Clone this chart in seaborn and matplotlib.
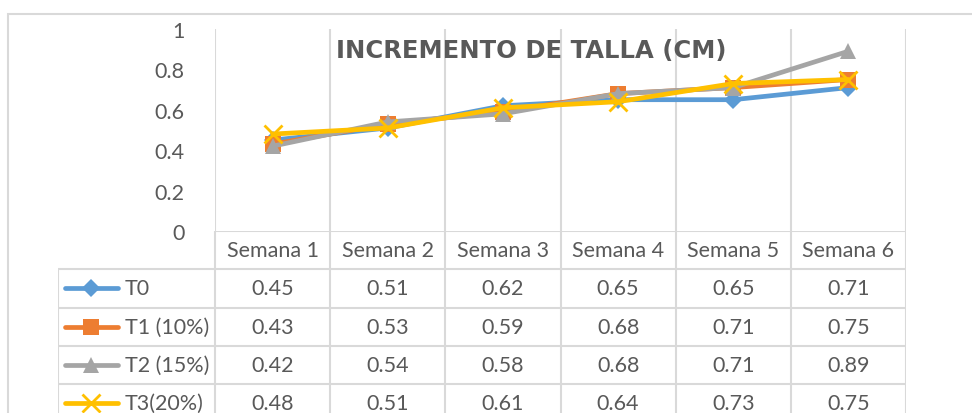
import pandas as pd
import numpy as np
import seaborn as sns
import matplotlib.pyplot as plt
from matplotlib.lines import Line2D
from matplotlib.patches import Rectangle

semanas = ['Semana 1', 'Semana 2', 'Semana 3', 'Semana 4', 'Semana 5', 'Semana 6']
series = ['T0', 'T1 (10%)', 'T2 (15%)', 'T3(20%)']
t0 = [0.45, 0.51, 0.62, 0.65, 0.65, 0.71]
t1 = [0.43, 0.53, 0.59, 0.68, 0.71, 0.75]
t2 = [0.42, 0.54, 0.58, 0.68, 0.71, 0.89]
t3 = [0.48, 0.51, 0.61, 0.64, 0.73, 0.75]
y_ticks = [0, 0.2, 0.4, 0.6, 0.8, 1]
y_labels = ['0', '0.2', '0.4', '0.6', '0.8', '1']
title = 'INCREMENTO DE TALLA (CM)'

colors = ['#5B9BD5', '#ED7D31', '#A5A5A5', '#FFC000']
markers = ['D', 's', '^', 'x']
msizes = [9, 11, 12, 13]
text_c = '#595959'
grid_c = '#D9D9D9'


def main():
    sns.set_style('white')
    plt.rcParams['font.family'] = ['Lato', 'DejaVu Sans']

    values = [t0, t1, t2, t3]
    rows = []
    for name, vals in zip(series, values):
        for i, v in enumerate(vals):
            rows.append({'semana': i, 'serie': name, 'valor': v})
    df = pd.DataFrame(rows)

    W, H = 972, 414
    fig = plt.figure(figsize=(W / 100, H / 100), dpi=100)

    # chart border (Excel chart area)
    fig.add_artist(Rectangle((8 / W, -0.1), 1.2, (H - 15) / H + 0.1,
                             transform=fig.transFigure, fill=False,
                             edgecolor=grid_c, lw=1.5))

    # plot area
    left, right, top, bottom = 215, 906, 30, 232
    ax = fig.add_axes([left / W, (H - bottom) / H, (right - left) / W, (bottom - top) / H])
    n = len(semanas)
    # one call per series: seaborn won't mix filled and line-art markers
    for name, c, m, ms in zip(series, colors, markers, msizes):
        sub = df[df['serie'] == name]
        sns.lineplot(data=sub, x='semana', y='valor', color=c, marker=m,
                     markersize=ms, linewidth=3.4,
                     markeredgewidth=2 if m == 'x' else 0, markeredgecolor=c,
                     legend=False, ax=ax)
    ax.set_xlim(-0.5, n - 0.5)
    ax.set_ylim(0, 1)
    ax.set_xticks([])
    ax.set_yticks(y_ticks)
    ax.set_yticklabels(y_labels, color=text_c, fontsize=15.5)
    ax.tick_params(axis='y', length=0, pad=22)
    for k in range(n + 1):
        ax.axvline(k - 0.5, color=grid_c, lw=1.5, zorder=0)
    for s in ax.spines.values():
        s.set_visible(False)
    ax.set_xlabel('')
    ax.set_ylabel('')

    fig.text(531 / W, (H - 51) / H, title, ha='center', va='center',
             fontsize=17.5, fontweight='bold', color=text_c, family='DejaVu Sans')

    # data table below the plot
    row_h = 38.3
    first_w = (left - 58) / ((right - left) / n)
    tab_top = bottom
    n_rows = len(series) + 1
    tax = fig.add_axes([58 / W, (H - tab_top - n_rows * row_h) / H,
                        (right - 58) / W, n_rows * row_h / H])
    tax.set_xlim(-0.5 - first_w, n - 0.5)
    tax.set_ylim(n_rows, 0)
    tax.axis('off')
    tax.hlines(0, -0.5, n - 0.5, color=grid_c, lw=1.5)
    tax.hlines(range(1, n_rows + 1), -0.5 - first_w, n - 0.5, color=grid_c, lw=1.5)
    tax.vlines([k - 0.5 for k in range(n + 1)], 0, n_rows, color=grid_c, lw=1.5)
    tax.vlines(-0.5 - first_w, 1, n_rows, color=grid_c, lw=1.5)
    fs = 15.5
    for i, s in enumerate(semanas):
        tax.text(i, 0.5, s, ha='center', va='center', fontsize=fs, color=text_c)
    for r, (name, vals) in enumerate(zip(series, values)):
        yc = r + 1.5
        for i, v in enumerate(vals):
            tax.text(i, yc, f'{v:.2f}', ha='center', va='center', fontsize=fs, color=text_c)
        x0 = -0.5 - first_w
        key = Line2D([x0 + 0.06, x0 + 0.52], [yc, yc], color=colors[r], lw=3.4,
                     solid_capstyle='round')
        tax.add_line(key)
        mk = Line2D([x0 + 0.29], [yc], color=colors[r], marker=markers[r],
                    markersize=msizes[r], markeredgewidth=2 if markers[r] == 'x' else 0,
                    markeredgecolor=colors[r], linestyle='none')
        tax.add_line(mk)
        tax.text(x0 + 0.58, yc, name, ha='left', va='center', fontsize=fs, color=text_c)

    fig.savefig('out.png', dpi=100)


if __name__ == '__main__':
    main()
